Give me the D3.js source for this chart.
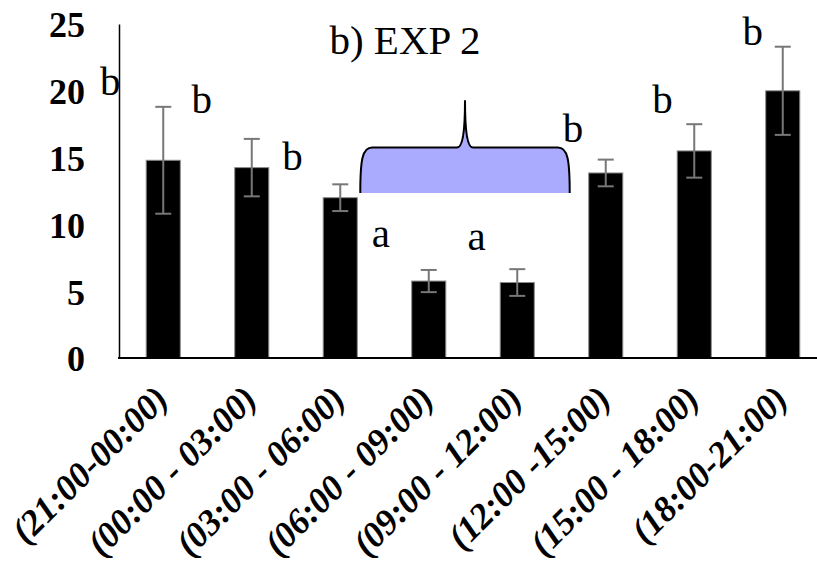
<!DOCTYPE html>
<html><head><meta charset="utf-8">
<script src="https://cdn.jsdelivr.net/npm/d3@7"></script>
<style>body{margin:0;background:#fff}svg{display:block}</style>
</head><body>
<svg id="c" width="817" height="570"></svg>
<script>
const categories = ["(21:00-00:00)","(00:00 - 03:00)","(03:00 - 06:00)","(06:00 - 09:00)","(09:00 - 12:00)","(12:00 -15:00)","(15:00 - 18:00)","(18:00-21:00)"];
const values = [14.8, 14.25, 12.0, 5.76, 5.65, 13.85, 15.5, 20.0];
const errors = [4.0, 2.15, 1.0, 0.83, 1.0, 1.0, 2.0, 3.3];
const yTicks = [0, 5, 10, 15, 20, 25];
const title = "b) EXP 2";
// significance letters: text, position in category units, value level of baseline
const letterText = ["b","b","b","a","a","b","b","b"];
const letterPos  = [-0.60, 0.435, 1.46, 2.46, 3.54, 4.63, 5.64, 6.66];
const letterVal  = [19.7, 18.35, 14.1, 8.3, 8.1, 16.2, 18.35, 23.45];

const svg = d3.select("#c");
const x = d3.scaleBand().domain(categories).range([119, 827]).paddingInner(0.615).paddingOuter(0.3075);
const y = d3.scaleLinear().domain([0, 25]).range([358, 24]);
const cx = i => x(categories[i]) + x.bandwidth()/2;
const xi = d3.scaleLinear().domain([0, categories.length-1]).range([cx(0), cx(categories.length-1)]);
const serif = "'Liberation Serif','Times New Roman',serif";

// bars
svg.selectAll("rect.bar").data(values).join("rect")
  .attr("x", (d,i) => x(categories[i])).attr("width", x.bandwidth())
  .attr("y", d => y(d)).attr("height", d => y(0) - y(d))
  .attr("fill", "#000").attr("stroke", "#8a8a8a").attr("stroke-width", 1);

// brace annotation
const bl = x(categories[2]) + x.bandwidth() + 3, br = x(categories[5]) - 19;
const bm = (bl + br) / 2, bt = y(15.75), bb = y(12.35), bp = y(19.3);
const braceD = `M${bl},${bb} C${bl},${bt+12} ${bl+2},${bt} ${bl+12},${bt} L${bm-8},${bt} C${bm-3},${bt} ${bm},${bt-12} ${bm},${bp} C${bm},${bt-12} ${bm+3},${bt} ${bm+8},${bt} L${br-12},${bt} C${br-2},${bt} ${br},${bt+12} ${br},${bb}`;
svg.append("path").attr("d", braceD + " Z").attr("fill", "#aaaaff").attr("stroke", "none");
svg.append("path").attr("d", braceD).attr("fill", "none").attr("stroke", "#000").attr("stroke-width", 2);

// error bars
const eg = svg.append("g").attr("stroke", "#777").attr("stroke-width", 2);
values.forEach((v,i) => {
  eg.append("line").attr("x1", cx(i)).attr("x2", cx(i)).attr("y1", y(v+errors[i])).attr("y2", y(v-errors[i]));
  [v+errors[i], v-errors[i]].forEach(e => eg.append("line").attr("x1", cx(i)-8).attr("x2", cx(i)+8).attr("y1", y(e)).attr("y2", y(e)));
});

// axes
const yAxis = d3.axisLeft(y).tickValues(yTicks).tickSize(0).tickPadding(34);
const gy = svg.append("g").attr("transform", "translate(119,0)").call(yAxis);
gy.select(".domain").attr("stroke", "#000").attr("stroke-width", 1.5);
gy.selectAll("text").attr("font-family", serif).attr("font-weight", "bold").attr("font-size", 36).attr("fill", "#000").attr("dy", "0.36em");

svg.append("line").attr("x1", 118).attr("x2", 817).attr("y1", y(0)).attr("y2", y(0)).attr("stroke", "#000").attr("stroke-width", 2);

// x labels
svg.selectAll("text.xl").data(categories).join("text")
  .attr("transform", (d,i) => `translate(${cx(i)+7},${y(0)+43}) rotate(-45)`)
  .attr("text-anchor", "end").attr("font-family", serif).attr("font-weight", "bold").attr("font-style", "italic")
  .attr("font-size", 36).attr("fill", "#000").text(d => d);

// title
svg.append("text").attr("x", 405).attr("y", 54).attr("text-anchor", "middle")
  .attr("font-family", serif).attr("font-size", 41).attr("fill", "#000").text(title);

// letters
svg.selectAll("text.lt").data(letterText).join("text")
  .attr("x", (d,i) => xi(letterPos[i])).attr("y", (d,i) => y(letterVal[i]))
  .attr("text-anchor", "middle")
  .attr("font-family", serif).attr("font-size", 41).attr("fill", "#000").text(d => d);
</script>
</body></html>
